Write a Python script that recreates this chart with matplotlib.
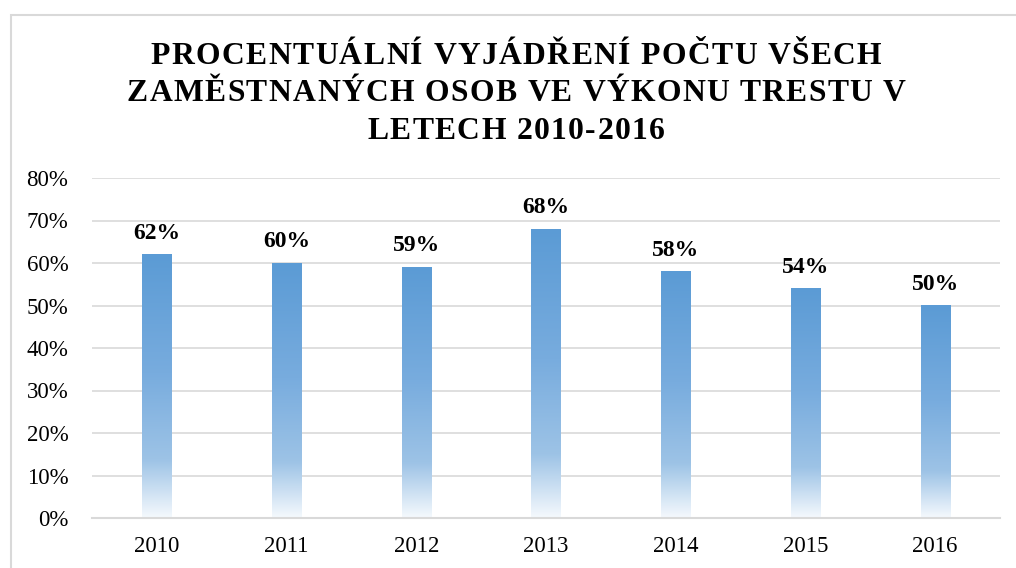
import numpy as np
import matplotlib
matplotlib.use("Agg")
import matplotlib.pyplot as plt
from matplotlib.colors import LinearSegmentedColormap
from matplotlib.patches import Rectangle
from matplotlib.font_manager import FontProperties

years = ["2010", "2011", "2012", "2013", "2014", "2015", "2016"]
values = [0.62, 0.60, 0.59, 0.68, 0.58, 0.54, 0.50]
labels = ["62%", "60%", "59%", "68%", "58%", "54%", "50%"]
title_lines = ["PROCENTUÁLNÍ VYJÁDŘENÍ POČTU VŠECH",
               "ZAMĚSTNANÝCH OSOB VE VÝKONU TRESTU V",
               "LETECH 2010-2016"]
yticks = [0.0, 0.1, 0.2, 0.3, 0.4, 0.5, 0.6, 0.7, 0.8]

W, H = 1016, 568
fig = plt.figure(figsize=(W / 100, H / 100), dpi=100)
fig.patch.set_facecolor("white")

# chart border
fig.patches.append(Rectangle((11 / W, -0.1), 1.2, 1 - 15 / H + 0.1,
                             transform=fig.transFigure, fill=False,
                             edgecolor="#d9d9d9", lw=1.5, zorder=0))

ax = fig.add_axes([92 / W, 1 - 518 / H, (1000 - 92) / W, (518 - 178) / H])
serif = "Liberation Serif"

x = np.arange(len(years))
bars = ax.bar(x, values, width=0.225, color="none", zorder=2)

cmap = LinearSegmentedColormap.from_list(
    "grad",
    [(0.0, (245/255, 249/255, 253/255)),
     (0.22, (157/255, 195/255, 230/255)),
     (0.55, (120/255, 172/255, 222/255)),
     (1.0, (91/255, 155/255, 213/255))])
grad = np.linspace(0, 1, 256).reshape(-1, 1)
for b in bars:
    bx, bw, bh = b.get_x(), b.get_width(), b.get_height()
    ax.imshow(grad, cmap=cmap, origin="lower", aspect="auto",
              extent=(bx, bx + bw, 0, bh), zorder=2, interpolation="bilinear")

for xi, v, lab in zip(x, values, labels):
    ax.annotate(lab, (xi, v), xytext=(0, 11.5), textcoords="offset points",
                ha="center", va="baseline", fontsize=17, fontweight="bold",
                family=serif, color="black")

ax.set_xlim(-0.5, len(years) - 0.5)
ax.set_ylim(0, 0.8)
ax.set_yticks(yticks)
ax.set_yticklabels([f"{int(round(t*100))}%" for t in yticks], family=serif, fontsize=16.5)
ax.set_xticks(x)
ax.set_xticklabels(years, family=serif, fontsize=16.5)
ax.tick_params(axis="both", length=0, colors="black")
ax.tick_params(axis="y", pad=17)
ax.tick_params(axis="x", pad=13)
ax.grid(axis="y", color="#d9d9d9", lw=1.2, zorder=0)
ax.set_axisbelow(True)
for s in ["top", "right", "left"]:
    ax.spines[s].set_visible(False)
ax.spines["bottom"].set_color("#d9d9d9")
ax.spines["bottom"].set_linewidth(1.5)

# title with letter spacing
renderer = fig.canvas.get_renderer()
tprop = FontProperties(family=serif, weight="bold", size=22.8)
spacing = 1.4  # px
cx = 516
ys = [64, 101, 139]
for line, yb in zip(title_lines, ys):
    full_w = renderer.get_text_width_height_descent(line, tprop, ismath=False)[0]
    total = full_w + (len(line) - 1) * spacing
    x0 = cx - total / 2
    for i, ch in enumerate(line):
        if ch == " ":
            continue
        pre = renderer.get_text_width_height_descent(line[:i], tprop, ismath=False)[0] if i else 0
        fig.text((x0 + pre + i * spacing) / W, 1 - yb / H, ch, ha="left",
                 va="baseline", fontproperties=tprop, color="black")

fig.savefig("out.png", dpi=100)
